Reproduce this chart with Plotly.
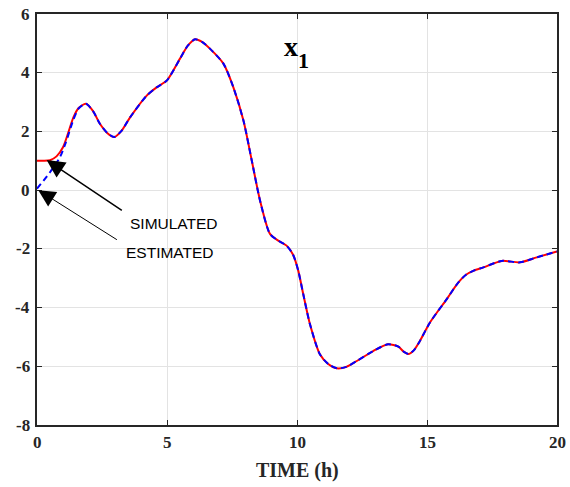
import plotly.graph_objects as go

# Simulated state x1
time_sim = [0, 0.25, 0.5, 0.75, 1.0, 1.2, 1.4, 1.6, 1.88, 2.15, 2.42, 2.7, 2.97, 3.25, 3.58, 4.22, 4.6, 5.0,
            5.5, 5.8, 6.08, 6.35, 6.65, 7.17, 7.55, 7.94, 8.26, 8.58, 8.96, 9.28, 9.6, 9.85, 10.05, 10.24,
            10.5, 10.88, 11.2, 11.53, 11.9, 12.3, 12.93, 13.5, 13.9, 14.1, 14.3, 14.5, 14.7, 15.12, 15.76,
            16.2, 16.5, 16.8, 17.17, 17.87, 18.58, 19.22, 20.0]
simulated = [1.0, 1.0, 1.02, 1.15, 1.46, 1.95, 2.48, 2.8, 2.94, 2.7, 2.26, 1.95, 1.81, 2.02, 2.48, 3.22, 3.5, 3.74,
             4.48, 4.92, 5.14, 5.05, 4.82, 4.31, 3.51, 2.37, 1.01, -0.36, -1.49, -1.72, -1.89, -2.2, -2.75, -3.54,
             -4.57, -5.59, -5.92, -6.07, -6.02, -5.82, -5.48, -5.25, -5.33, -5.5, -5.58, -5.45, -5.18, -4.5, -3.71,
             -3.15, -2.88, -2.74, -2.63, -2.41, -2.46, -2.29, -2.09]

# Estimated state x1
time_est = [0, 0.5, 0.88, 1.1, 1.4, 1.6, 1.88, 2.15, 2.42, 2.7, 2.97, 3.25, 3.58, 4.22, 4.6, 5.0,
            5.5, 5.8, 6.08, 6.35, 6.65, 7.17, 7.55, 7.94, 8.26, 8.58, 8.96, 9.28, 9.6, 9.85, 10.05, 10.24,
            10.5, 10.88, 11.2, 11.53, 11.9, 12.3, 12.93, 13.5, 13.9, 14.1, 14.3, 14.5, 14.7, 15.12, 15.76,
            16.2, 16.5, 16.8, 17.17, 17.87, 18.58, 19.22, 20.0]
estimated = [0.05, 0.61, 1.12, 1.6, 2.4, 2.78, 2.94, 2.7, 2.26, 1.95, 1.81, 2.02, 2.48, 3.22, 3.5, 3.74,
             4.48, 4.92, 5.14, 5.05, 4.82, 4.31, 3.51, 2.37, 1.01, -0.36, -1.49, -1.72, -1.89, -2.2, -2.75, -3.54,
             -4.57, -5.59, -5.92, -6.07, -6.02, -5.82, -5.48, -5.25, -5.33, -5.5, -5.58, -5.45, -5.18, -4.5, -3.71,
             -3.15, -2.88, -2.74, -2.63, -2.41, -2.46, -2.29, -2.09]

x_ticks = [0, 5, 10, 15, 20]
y_ticks = [-8, -6, -4, -2, 0, 2, 4, 6]

SERIF = "Liberation Serif"
tick_font = dict(family=SERIF, size=17, color="#262626")

fig = go.Figure()
fig.add_trace(go.Scatter(x=time_sim, y=simulated, mode="lines",
                         line=dict(color="#ff0000", width=2, shape="spline", smoothing=0.7),
                         showlegend=False))
fig.add_trace(go.Scatter(x=time_est, y=estimated, mode="lines",
                         line=dict(color="#0000ff", width=2, dash="6px,4px", shape="spline", smoothing=0.7),
                         showlegend=False))

def axis(rng, ticks):
    return dict(range=rng, tickmode="array", tickvals=ticks, showticklabels=False,
                showgrid=True, gridcolor="#e3e3e3", gridwidth=1, automargin=False,
                showline=True, linecolor="#262626", linewidth=1.5, mirror="ticks",
                ticks="inside", ticklen=5, tickcolor="#262626", zeroline=False)

annos = []
# tick labels drawn from the tick arrays
for v in x_ticks:
    annos.append(dict(x=v, y=0, xref="x", yref="paper", yanchor="top", xanchor="center",
                      yshift=-6, showarrow=False, text="<b>%d</b>" % v, font=tick_font))
for v in y_ticks:
    annos.append(dict(x=0, y=v, xref="paper", yref="y", xanchor="right", yanchor="middle",
                      xshift=-5, showarrow=False, text="<b>%d</b>" % v, font=tick_font))
# axis title
annos.append(dict(x=0.5, y=0, xref="paper", yref="paper", yanchor="top", yshift=-32,
                  showarrow=False, text="<b>TIME (h)</b>",
                  font=dict(family=SERIF, size=20, color="#262626")))

annos += [
    dict(x=0.37, y=1.03, ax=3.32, ay=-0.72, xref="x", yref="y", axref="x", ayref="y",
         showarrow=True, arrowhead=2, arrowsize=2.4, arrowwidth=1.5, arrowcolor="black", text=""),
    dict(x=0.05, y=0.0, ax=3.13, ay=-1.72, xref="x", yref="y", axref="x", ayref="y",
         showarrow=True, arrowhead=2, arrowsize=3.4, arrowwidth=1.0, arrowcolor="black", text=""),
    dict(x=5.28, y=-1.14, xref="x", yref="y", showarrow=False, text="SIMULATED",
         font=dict(family="Liberation Sans", size=15.5, color="black")),
    dict(x=5.13, y=-2.12, xref="x", yref="y", showarrow=False, text="ESTIMATED",
         font=dict(family="Liberation Sans", size=15.5, color="black")),
    dict(x=9.75, y=4.9, xref="x", yref="y", showarrow=False, text="<b>x</b>",
         font=dict(family=SERIF, size=28, color="black")),
    dict(x=10.25, y=4.4, xref="x", yref="y", showarrow=False, text="<b>1</b>",
         font=dict(family=SERIF, size=22, color="black")),
]
fig.update_layout(width=570, height=487, margin=dict(l=37, r=13, t=14, b=62),
                  font=dict(family=SERIF, size=17, color="#262626"),
                  xaxis=axis([0, 20], x_ticks),
                  yaxis=axis([-8, 6], y_ticks),
                  plot_bgcolor="white", paper_bgcolor="white", annotations=annos)

fig.write_html("out.html")
